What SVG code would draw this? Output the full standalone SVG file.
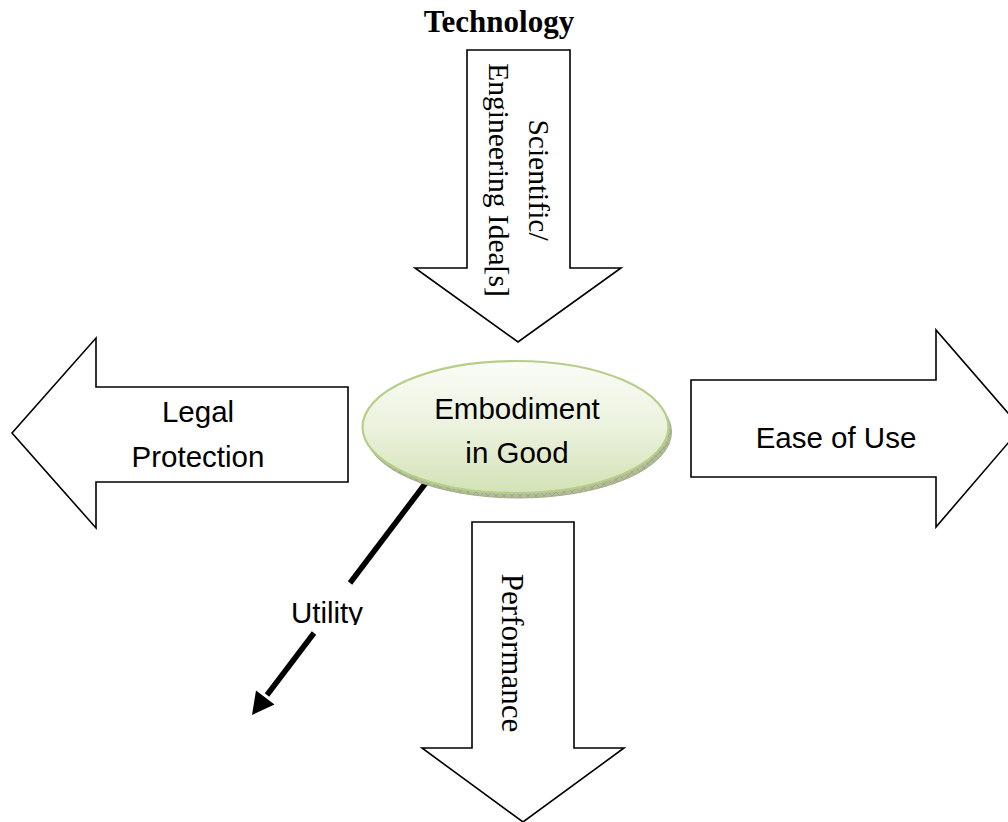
<svg xmlns="http://www.w3.org/2000/svg" width="1008" height="822" viewBox="0 0 1008 822">
  <style>
    .arrow { fill: #ffffff; stroke: #000000; stroke-width: 1.6; stroke-linejoin: miter; }
    .sans { font-family: "Liberation Sans", Arial, sans-serif; font-size: 29.5px; fill: #000000; }
    .serif { font-family: "Liberation Serif", "Times New Roman", serif; fill: #000000; }
    .conn { stroke: #000000; stroke-width: 5.5; fill: none; }
    .head { fill: #000000; stroke: none; }
  </style>
  <defs>
    <linearGradient id="ellGrad" x1="0" y1="0" x2="0" y2="1">
      <stop offset="0" stop-color="#fbfcf8"/>
      <stop offset="0.5" stop-color="#ebf2dd"/>
      <stop offset="1" stop-color="#d3e2b6"/>
    </linearGradient>
    <pattern id="hatch" width="8" height="8" patternUnits="userSpaceOnUse">
      <rect width="8" height="8" fill="#b2bb9a"/>
      <path d="M0 0 L8 8 M8 0 L0 8" stroke="#979f80" stroke-width="0.7"/>
    </pattern>
    <clipPath id="utilClip">
      <rect x="270" y="585" width="120" height="40"/>
    </clipPath>
  </defs>

  <g id="title-technology">
    <text class="serif" x="499" y="32" font-size="31" font-weight="bold" text-anchor="middle">Technology</text>
  </g>

  <g id="node-scientific-ideas">
    <polygon class="arrow" points="467,50 570,50 570,268 621,268 518,342 415,268 467,268"/>
    <g transform="translate(529 180) rotate(90)">
      <text class="serif" x="0" y="0" font-size="29.5" text-anchor="middle">Scientific/</text>
      <text class="serif" x="0" y="40" font-size="29.5" text-anchor="middle">Engineering Idea[s]</text>
    </g>
  </g>

  <g id="node-legal-protection">
    <polygon class="arrow" points="348,387 96,387 96,338 12,433 96,528 96,482 348,482"/>
    <text class="sans" x="198" y="422" text-anchor="middle">Legal</text>
    <text class="sans" x="198" y="467" text-anchor="middle">Protection</text>
  </g>

  <g id="node-ease-of-use">
    <polygon class="arrow" points="691,380 936,380 936,330 1021,428 936,527 936,477 691,477"/>
    <text class="sans" x="836" y="448" text-anchor="middle">Ease of Use</text>
  </g>

  <g id="node-performance">
    <polygon class="arrow" points="472,522 574,522 574,748 624,748 523,822 422,748 472,748"/>
    <g transform="translate(502 653) rotate(90)">
      <text class="serif" x="0" y="0" font-size="31" text-anchor="middle">Performance</text>
    </g>
  </g>

  <g id="connectors">
    <line class="conn" x1="428" y1="480" x2="350" y2="583"/>
    <line class="conn" x1="314" y1="633" x2="267" y2="695"/>
    <polygon class="head" points="252,715 274.5,704.5 256,690.5"/>
  </g>

  <g id="node-utility">
    <text class="sans" x="327" y="623" text-anchor="middle" clip-path="url(#utilClip)">Utility</text>
  </g>

  <g id="node-embodiment">
    <ellipse cx="518.5" cy="432" rx="153" ry="66" fill="url(#hatch)" stroke="#a3ae88" stroke-width="1"/>
    <ellipse cx="515.5" cy="427" rx="153" ry="66" fill="url(#ellGrad)" stroke="#b5cf88" stroke-width="2.2"/>
    <text class="sans" x="517" y="419" text-anchor="middle">Embodiment</text>
    <text class="sans" x="517" y="463" text-anchor="middle">in Good</text>
  </g>
</svg>
